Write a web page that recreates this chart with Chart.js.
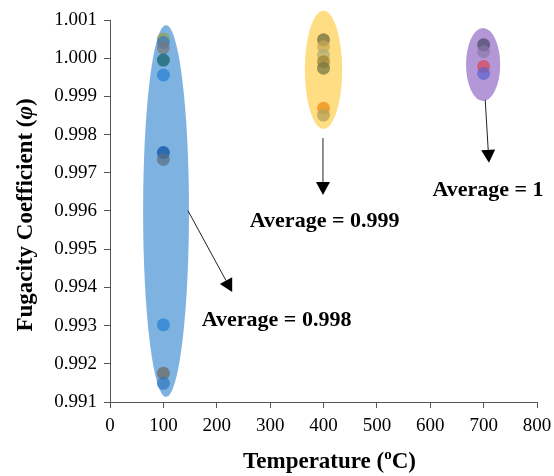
<!DOCTYPE html>
<html>
<head>
<meta charset="utf-8">
<script src="https://cdn.jsdelivr.net/npm/chart.js@4/dist/chart.umd.min.js"></script>
<style>
  body { margin: 0; background: #fff; }
</style>
</head>
<body>
<canvas id="chart" width="554" height="476"></canvas>
<script>
// temperatures (x) for each group
const temps = [100, 400, 700];

// fugacity coefficient values
const phi100 = [1.0005, 1.00041, 1.00027, 0.99995, 0.99956, 0.99753, 0.99735, 0.99302, 0.99175, 0.99149];
const phi400 = [1.00048, 1.0003, 1.00008, 0.99991, 0.99974, 0.99869, 0.99851];
const phi700 = [1.00035, 1.00017, 0.99978, 0.9996];

const xTicks = [0, 100, 200, 300, 400, 500, 600, 700, 800];
const yTicks = [0.991, 0.992, 0.993, 0.994, 0.995, 0.996, 0.997, 0.998, 0.999, 1.000, 1.001];

// ellipse around each group: [centre x, half width, top y, bottom y] in data units
const ellipses = [
  [105, 43, 1.00087, 0.99113],
  [400, 35, 1.00124, 0.99815],
  [699, 32, 1.00079, 0.99888]
];
const ellipseColors = ['rgba(115,172,222,0.92)', 'rgba(255,214,100,0.8)', 'rgba(160,125,205,0.8)'];

// arrows: [x0, y0, x1, y1] in data units
const arrows = [
  [146, 0.99601, 229, 0.99388],
  [399, 0.99791, 399, 0.99642],
  [703, 0.99891, 710, 0.99726]
];
const averageTexts = ['Average = 0.998', 'Average = 0.999', 'Average = 1'];
const averageAt = [[172, 0.99315], [262, 0.99574], [604, 0.99655]];

const colors100 = ['rgba(150,160,80,0.75)', 'rgba(40,110,200,0.6)', 'rgba(120,120,120,0.7)', 'rgba(20,100,110,0.75)',
  'rgba(40,130,210,0.75)', 'rgba(20,90,170,0.8)', 'rgba(90,110,130,0.7)', 'rgba(40,130,210,0.75)',
  'rgba(110,110,110,0.8)', 'rgba(50,120,190,0.7)'];
const colors400 = ['rgba(110,110,60,0.75)', 'rgba(200,170,80,0.75)', 'rgba(175,175,115,0.75)', 'rgba(160,130,50,0.75)',
  'rgba(120,120,65,0.75)', 'rgba(240,150,30,0.85)', 'rgba(185,165,90,0.8)'];
const colors700 = ['rgba(70,70,100,0.7)', 'rgba(140,120,170,0.7)', 'rgba(220,70,80,0.7)', 'rgba(90,100,210,0.7)'];

const serif = "'Liberation Serif', 'Times New Roman', serif";

const toPoints = (x, ys) => ys.map(y => ({ x: x, y: y }));

const decorPlugin = {
  id: 'decor',
  beforeDatasetsDraw(chart) {
    const ctx = chart.ctx;
    const xs = chart.scales.x, ys = chart.scales.y;
    ctx.save();
    ellipses.forEach((e, i) => {
      const cx = xs.getPixelForValue(e[0]);
      const rx = xs.getPixelForValue(e[0] + e[1]) - cx;
      const top = ys.getPixelForValue(e[2]);
      const bottom = ys.getPixelForValue(e[3]);
      ctx.beginPath();
      ctx.ellipse(cx, (top + bottom) / 2, rx, (bottom - top) / 2, 0, 0, Math.PI * 2);
      ctx.fillStyle = ellipseColors[i];
      ctx.fill();
    });
    ctx.restore();
  },
  afterDatasetsDraw(chart) {
    const ctx = chart.ctx;
    const xs = chart.scales.x, ys = chart.scales.y;
    ctx.save();
    ctx.strokeStyle = '#222';
    ctx.fillStyle = '#000';
    ctx.lineWidth = 1;
    arrows.forEach(a => {
      const x0 = xs.getPixelForValue(a[0]), y0 = ys.getPixelForValue(a[1]);
      const x1 = xs.getPixelForValue(a[2]), y1 = ys.getPixelForValue(a[3]);
      const ang = Math.atan2(y1 - y0, x1 - x0);
      const len = 13, half = 7;
      const bx = x1 - len * Math.cos(ang), by = y1 - len * Math.sin(ang);
      ctx.beginPath();
      ctx.moveTo(x0, y0);
      ctx.lineTo(bx, by);
      ctx.stroke();
      ctx.beginPath();
      ctx.moveTo(x1, y1);
      ctx.lineTo(bx + half * Math.sin(ang), by - half * Math.cos(ang));
      ctx.lineTo(bx - half * Math.sin(ang), by + half * Math.cos(ang));
      ctx.closePath();
      ctx.fill();
    });

    ctx.font = 'bold 22px ' + serif;
    ctx.textBaseline = 'middle';
    ctx.textAlign = 'left';
    averageTexts.forEach((t, i) => {
      ctx.fillText(t, xs.getPixelForValue(averageAt[i][0]), ys.getPixelForValue(averageAt[i][1]));
    });
    ctx.restore();
  },
  afterDraw(chart) {
    const ctx = chart.ctx;
    const area = chart.chartArea;
    ctx.save();
    ctx.fillStyle = '#000';
    ctx.textBaseline = 'middle';

    // x axis title with superscript o
    const main = 'Temperature (';
    const sup = 'o';
    const tail = 'C)';
    const big = 'bold 23px ' + serif, small = 'bold 15px ' + serif;
    ctx.font = big;
    const w1 = ctx.measureText(main).width, w3 = ctx.measureText(tail).width;
    ctx.font = small;
    const w2 = ctx.measureText(sup).width;
    let x = (area.left + area.right) / 2 - (w1 + w2 + w3) / 2 + 6;
    const y = 462;
    ctx.textAlign = 'left';
    ctx.font = big;
    ctx.fillText(main, x, y);
    x += w1;
    ctx.font = small;
    ctx.fillText(sup, x, y - 7);
    x += w2;
    ctx.font = big;
    ctx.fillText(tail, x, y);

    // y axis title with italic phi
    const yMain = 'Fugacity Coefficient (';
    const yPhi = 'φ';
    const yTail = ')';
    ctx.translate(26, 215);
    ctx.rotate(-Math.PI / 2);
    ctx.font = big;
    const a1 = ctx.measureText(yMain).width, a3 = ctx.measureText(yTail).width;
    ctx.font = 'bold italic 23px ' + serif;
    const a2 = ctx.measureText(yPhi).width;
    let p = -(a1 + a2 + a3) / 2;
    ctx.font = big;
    ctx.fillText(yMain, p, 0);
    p += a1;
    ctx.font = 'bold italic 23px ' + serif;
    ctx.fillText(yPhi, p, 0);
    p += a2;
    ctx.font = big;
    ctx.fillText(yTail, p, 0);
    ctx.restore();
  }
};

new Chart(document.getElementById('chart'), {
  type: 'scatter',
  data: {
    datasets: [
      { data: toPoints(temps[0], phi100), backgroundColor: colors100 },
      { data: toPoints(temps[1], phi400), backgroundColor: colors400 },
      { data: toPoints(temps[2], phi700), backgroundColor: colors700 }
    ]
  },
  options: {
    responsive: false,
    animation: false,
    layout: { padding: { top: 20, right: 17, left: 0, bottom: 0 } },
    elements: { point: { radius: 6.5, borderWidth: 0, hoverRadius: 6.5 } },
    plugins: { legend: { display: false }, tooltip: { enabled: false } },
    scales: {
      x: {
        type: 'linear',
        min: xTicks[0],
        max: xTicks[xTicks.length - 1],
        afterFit: scale => {
          scale.height = 74;
          scale.paddingLeft = 0;
          scale.paddingRight = 0;
        },
        afterBuildTicks: scale => { scale.ticks = xTicks.map(v => ({ value: v })); },
        ticks: { font: { family: serif, size: 19 }, color: '#000', padding: 7, maxRotation: 0 },
        grid: { drawOnChartArea: false, drawTicks: true, tickLength: 6, color: '#555' },
        border: { color: '#555', width: 1 }
      },
      y: {
        type: 'linear',
        min: yTicks[0],
        max: yTicks[yTicks.length - 1],
        afterFit: scale => {
          scale.width = 110;
          scale.paddingTop = 0;
          scale.paddingBottom = 0;
        },
        afterBuildTicks: scale => { scale.ticks = yTicks.map(v => ({ value: v })); },
        ticks: {
          font: { family: serif, size: 19 },
          color: '#000',
          padding: 7,
          callback: v => v.toFixed(3)
        },
        grid: { drawOnChartArea: false, drawTicks: true, tickLength: 6, color: '#555' },
        border: { color: '#555', width: 1 }
      }
    }
  },
  plugins: [decorPlugin]
});
</script>
</body>
</html>
